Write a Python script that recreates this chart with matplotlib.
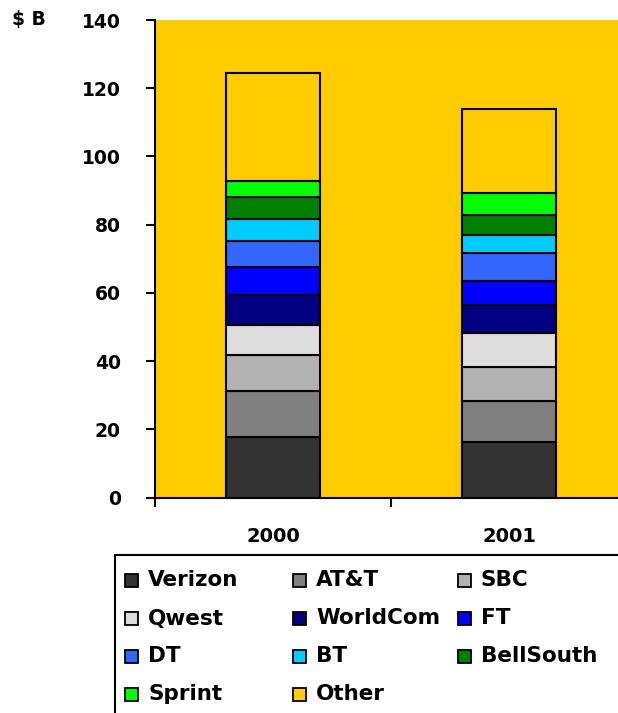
import matplotlib
matplotlib.use('Agg')
import matplotlib.pyplot as plt
from matplotlib.patches import Rectangle
import numpy as np

# data ($ B)
years = ['2000', '2001']
companies = ['Verizon', 'AT&T', 'SBC', 'Qwest', 'WorldCom', 'FT',
             'DT', 'BT', 'BellSouth', 'Sprint', 'Other']
values_2000 = [17.6, 13.6, 10.6, 8.8, 8.8, 8.2, 7.7, 6.5, 6.4, 4.7, 31.7]
values_2001 = [16.4, 11.8, 10.0, 10.0, 8.2, 7.1, 8.2, 5.3, 5.9, 6.5, 24.6]
colors = ['#333333', '#808080', '#B2B2B2', '#DDDDDD', '#000080', '#0000FF',
          '#3366FF', '#00CCFF', '#008000', '#00FF00', '#FFCC00']
yticks = [0, 20, 40, 60, 80, 100, 120, 140]

plt.rcParams['font.family'] = 'DejaVu Sans'
plt.rcParams['font.weight'] = 'bold'

W, H = 618, 713
fig = plt.figure(figsize=(W / 100, H / 100), dpi=100)

# plot area: left edge at 155px, runs past the right edge of the figure
ax = fig.add_axes([155 / W, (H - 497.5) / H, 472 / W, 477.5 / H])
ax.set_facecolor('#FFCC00')

x = np.arange(len(years)) + 0.5
bottom = np.zeros(len(years))
for i, name in enumerate(companies):
    vals = np.array([values_2000[i], values_2001[i]])
    ax.bar(x, vals, 0.4, bottom=bottom, color=colors[i],
           edgecolor='black', linewidth=1.5, label=name, zorder=3)
    bottom += vals

ax.set_xlim(0, 2)
ax.set_ylim(0, 140)
ax.set_yticks(yticks)
ax.tick_params(axis='y', direction='out', length=6.5, width=1.5,
               labelsize=13.5, pad=18)

ax.set_xticks([0, 1, 2])
ax.set_xticklabels([])
ax.set_xticks(x, minor=True)
ax.set_xticklabels(years, minor=True)
ax.tick_params(axis='x', which='major', direction='out', length=6.5, width=1.5)
ax.tick_params(axis='x', which='minor', length=0, labelsize=14, pad=21)

for side in ['top', 'right']:
    ax.spines[side].set_visible(False)
for side in ['left', 'bottom']:
    ax.spines[side].set_linewidth(1.5)

fig.text(12 / W, 1 - 19 / H, '\\$ B', ha='left', va='center',
         fontsize=13.5, fontweight='bold')

# legend box, laid out in rows like the original (cut off at right/bottom)
lax = fig.add_axes([0, 0, 1, 1])
lax.set_xlim(0, W)
lax.set_ylim(H, 0)
lax.axis('off')
lax.patch.set_alpha(0)

lax.add_patch(Rectangle((115, 555), 600, 200, facecolor='white',
                        edgecolor='black', linewidth=1.5))
sq_x = [125, 293, 458]
txt_x = [148, 316, 481]
row_y = [580.5, 618.5, 656.5, 694]
for i, name in enumerate(companies):
    r, c = i // 3, i % 3
    lax.add_patch(Rectangle((sq_x[c], row_y[r] - 6.5), 13, 13,
                            facecolor=colors[i], edgecolor='black',
                            linewidth=1.3))
    lax.text(txt_x[c], row_y[r], name, ha='left', va='center',
             fontsize=15.5, fontweight='bold')

fig.savefig('out.png', dpi=100)
